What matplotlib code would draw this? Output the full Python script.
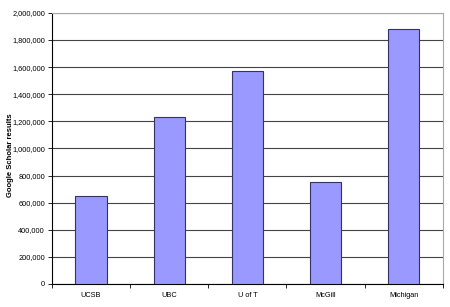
import numpy as np
import matplotlib
matplotlib.use("Agg")
import matplotlib.pyplot as plt
from matplotlib.ticker import FuncFormatter, FixedLocator

schools = ["UCSB", "UBC", "U of T", "McGill", "Michigan"]
results = [650000, 1230000, 1570000, 750000, 1880000]
yticks = list(range(0, 2000001, 200000))

plt.rcParams['font.family'] = ['Liberation Sans', 'DejaVu Sans']

fig = plt.figure(figsize=(4.5, 3.07), dpi=100)
ax = fig.add_axes([0.1156, 0.075, 0.8684, 0.883])

x = np.arange(len(schools))
ax.bar(x, results, width=0.4, color="#9999ff", edgecolor="#333366", linewidth=0.8, zorder=3)

ax.set_xlim(-0.5, len(schools) - 0.5)
ax.set_ylim(0, 2000000)
ax.set_yticks(yticks)
ax.yaxis.set_major_formatter(FuncFormatter(lambda v, p: "{:,}".format(int(v))))
ax.yaxis.grid(True, color="#444444", linewidth=0.8, zorder=0)

ax.set_xticks(x)
ax.set_xticklabels(schools)
ax.xaxis.set_minor_locator(FixedLocator(np.arange(-0.5, len(schools), 1.0)))
ax.tick_params(axis="x", which="major", length=0, labelsize=5.3, pad=6)
ax.tick_params(axis="x", which="minor", length=3, direction="out", width=0.6)
ax.tick_params(axis="y", length=3, width=0.6, labelsize=5.3, pad=2)

ax.set_ylabel("Google Scholar results", fontsize=5.5, fontweight="bold")
ax.yaxis.set_label_coords(-0.098, 0.476)

for side in ["top", "right"]:
    ax.spines[side].set_color("#aaaaaa")
    ax.spines[side].set_linewidth(0.8)
for side in ["left", "bottom"]:
    ax.spines[side].set_color("#000000")
    ax.spines[side].set_linewidth(0.8)

fig.savefig("out.png", dpi=100)
